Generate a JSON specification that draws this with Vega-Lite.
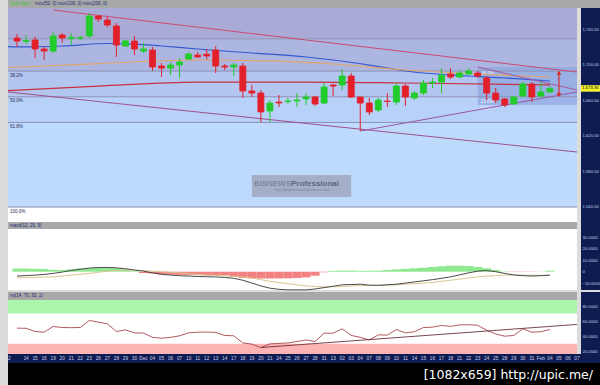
{
"$schema": "https://vega.github.io/schema/vega-lite/v6.json",
"background": "#dcdcdc",
"padding": {"left": 5, "top": 0, "right": 3, "bottom": 0},
"config": {"view": {"stroke": null}, "font": "Liberation Sans"},
"spacing": 0,
"datasets": {
"bars": [
{"d":"2012-11-13","o":1730.3,"h":1734.8,"l":1720.2,"c":1726.9,"m":-3.8,"s":-5.3,"hs":2.8,"r":50.7},
{"d":"2012-11-14","o":1726.5,"h":1733.7,"l":1723.5,"c":1727.5,"m":-3.4,"s":-5.2,"hs":2.8,"r":50.5},
{"d":"2012-11-15","o":1728.1,"h":1731.8,"l":1707.7,"c":1717.9,"m":-3.0,"s":-5.0,"hs":2.6,"r":46.2},
{"d":"2012-11-16","o":1717.9,"h":1720.2,"l":1705.5,"c":1715.6,"m":-2.4,"s":-4.8,"hs":2.4,"r":45.3},
{"d":"2012-11-19","o":1715.6,"h":1737.1,"l":1713.4,"c":1732.6,"m":-1.5,"s":-4.5,"hs":1.8,"r":52.9},
{"d":"2012-11-20","o":1733.7,"h":1735.9,"l":1724.7,"c":1730.3,"m":-0.3,"s":-3.8,"hs":1.6,"r":51.5},
{"d":"2012-11-21","o":1729.5,"h":1735.9,"l":1722.4,"c":1731.0,"m":1.0,"s":-3.0,"hs":2.2,"r":51.3},
{"d":"2012-11-22","o":1730.0,"h":1733.0,"l":1728.0,"c":1731.0,"m":2.2,"s":-2.2,"hs":2.8,"r":51.5},
{"d":"2012-11-23","o":1732.6,"h":1758.5,"l":1730.3,"c":1755.1,"m":3.2,"s":-1.5,"hs":3.2,"r":60.9},
{"d":"2012-11-26","o":1755.1,"h":1756.3,"l":1748.4,"c":1751.8,"m":3.7,"s":-0.5,"hs":3.5,"r":58.7},
{"d":"2012-11-27","o":1750.6,"h":1754.0,"l":1742.7,"c":1745.0,"m":3.8,"s":0.5,"hs":3.5,"r":56.4},
{"d":"2012-11-28","o":1743.9,"h":1747.2,"l":1708.9,"c":1722.4,"m":3.4,"s":1.1,"hs":3.2,"r":46.2},
{"d":"2012-11-29","o":1721.3,"h":1728.1,"l":1720.2,"c":1727.0,"m":2.6,"s":1.5,"hs":2.0,"r":48.4},
{"d":"2012-11-30","o":1726.9,"h":1732.6,"l":1711.1,"c":1717.9,"m":1.5,"s":1.3,"hs":0.5,"r":44.4},
{"d":"2012-12-03","o":1715.6,"h":1724.7,"l":1713.4,"c":1717.9,"m":0.5,"s":1.0,"hs":-1.2,"r":44.2},
{"d":"2012-12-04","o":1716.8,"h":1720.2,"l":1693.1,"c":1697.6,"m":-1.0,"s":0.5,"hs":-1.6,"r":38.5},
{"d":"2012-12-05","o":1698.7,"h":1702.1,"l":1686.3,"c":1696.4,"m":-2.3,"s":0.0,"hs":-2.4,"r":37.3},
{"d":"2012-12-06","o":1696.4,"h":1703.2,"l":1688.5,"c":1699.8,"m":-3.0,"s":-0.5,"hs":-2.6,"r":38.5},
{"d":"2012-12-07","o":1699.8,"h":1707.7,"l":1685.2,"c":1703.2,"m":-3.5,"s":-1.0,"hs":-2.8,"r":40.5},
{"d":"2012-12-10","o":1706.6,"h":1714.5,"l":1705.5,"c":1712.3,"m":-3.8,"s":-1.8,"hs":-3.0,"r":44.5},
{"d":"2012-12-11","o":1711.1,"h":1714.5,"l":1707.7,"c":1708.9,"m":-4.2,"s":-2.5,"hs":-3.0,"r":45.3},
{"d":"2012-12-12","o":1712.0,"h":1718.0,"l":1706.0,"c":1710.0,"m":-4.4,"s":-3.0,"hs":-3.2,"r":45.5},
{"d":"2012-12-13","o":1716.8,"h":1721.3,"l":1690.8,"c":1698.7,"m":-4.6,"s":-3.3,"hs":-3.0,"r":45.0},
{"d":"2012-12-14","o":1698.7,"h":1701.0,"l":1694.2,"c":1697.6,"m":-5.0,"s":-3.6,"hs":-3.2,"r":41.0},
{"d":"2012-12-17","o":1697.6,"h":1702.1,"l":1687.4,"c":1699.8,"m":-5.8,"s":-4.0,"hs":-4.5,"r":40.5},
{"d":"2012-12-18","o":1698.7,"h":1702.1,"l":1662.6,"c":1670.5,"m":-7.5,"s":-4.6,"hs":-5.5,"r":31.0},
{"d":"2012-12-19","o":1670.5,"h":1677.3,"l":1663.7,"c":1668.2,"m":-10.0,"s":-5.5,"hs":-5.9,"r":29.5},
{"d":"2012-12-20","o":1668.2,"h":1671.6,"l":1635.5,"c":1646.8,"m":-12.5,"s":-7.0,"hs":-6.0,"r":25.0},
{"d":"2012-12-21","o":1647.9,"h":1660.3,"l":1635.5,"c":1656.9,"m":-14.5,"s":-8.5,"hs":-6.0,"r":29.8},
{"d":"2012-12-24","o":1658.0,"h":1666.0,"l":1652.4,"c":1657.0,"m":-15.5,"s":-9.5,"hs":-5.9,"r":30.5},
{"d":"2012-12-25","o":1658.6,"h":1662.6,"l":1655.8,"c":1659.2,"m":-16.0,"s":-10.5,"hs":-5.8,"r":31.0},
{"d":"2012-12-26","o":1659.2,"h":1668.2,"l":1652.4,"c":1660.3,"m":-16.0,"s":-11.5,"hs":-5.5,"r":33.0},
{"d":"2012-12-27","o":1661.5,"h":1668.2,"l":1654.7,"c":1663.7,"m":-16.0,"s":-12.5,"hs":-5.0,"r":35.0},
{"d":"2012-12-28","o":1663.7,"h":1664.8,"l":1653.6,"c":1655.8,"m":-15.2,"s":-13.0,"hs":-3.5,"r":33.0},
{"d":"2012-12-31","o":1656.9,"h":1679.5,"l":1655.8,"c":1675.0,"m":-14.0,"s":-13.3,"hs":-0.5,"r":44.0},
{"d":"2013-01-01","o":1677.3,"h":1678.4,"l":1664.8,"c":1676.1,"m":-12.8,"s":-13.2,"hs":0.8,"r":44.0},
{"d":"2013-01-02","o":1677.3,"h":1695.3,"l":1671.6,"c":1687.4,"m":-11.5,"s":-13.0,"hs":1.0,"r":49.8},
{"d":"2013-01-03","o":1687.4,"h":1690.8,"l":1662.6,"c":1663.7,"m":-11.3,"s":-12.6,"hs":1.0,"r":41.0},
{"d":"2013-01-04","o":1663.7,"h":1663.7,"l":1625.3,"c":1656.9,"m":-11.0,"s":-12.3,"hs":0.8,"r":38.5},
{"d":"2013-01-07","o":1656.9,"h":1662.6,"l":1643.4,"c":1646.8,"m":-11.8,"s":-12.2,"hs":0.8,"r":35.0},
{"d":"2013-01-08","o":1649.0,"h":1662.6,"l":1646.8,"c":1660.3,"m":-12.0,"s":-12.0,"hs":1.0,"r":41.8},
{"d":"2013-01-09","o":1659.2,"h":1668.2,"l":1652.4,"c":1658.6,"m":-11.5,"s":-11.8,"hs":1.5,"r":41.5},
{"d":"2013-01-10","o":1658.0,"h":1679.5,"l":1654.7,"c":1676.1,"m":-11.0,"s":-11.6,"hs":2.0,"r":48.9},
{"d":"2013-01-11","o":1676.1,"h":1678.4,"l":1653.6,"c":1663.7,"m":-10.0,"s":-11.0,"hs":2.5,"r":44.4},
{"d":"2013-01-14","o":1662.6,"h":1670.5,"l":1660.3,"c":1668.2,"m":-9.0,"s":-10.5,"hs":3.0,"r":46.0},
{"d":"2013-01-15","o":1668.2,"h":1682.9,"l":1666.0,"c":1679.5,"m":-8.0,"s":-10.0,"hs":3.5,"r":51.5},
{"d":"2013-01-16","o":1679.5,"h":1685.2,"l":1673.9,"c":1680.6,"m":-7.0,"s":-9.5,"hs":4.2,"r":52.0},
{"d":"2013-01-17","o":1680.6,"h":1696.4,"l":1668.2,"c":1688.5,"m":-5.8,"s":-8.5,"hs":4.8,"r":54.2},
{"d":"2013-01-18","o":1689.7,"h":1696.4,"l":1684.0,"c":1686.3,"m":-4.5,"s":-7.5,"hs":5.3,"r":53.0},
{"d":"2013-01-21","o":1686.3,"h":1693.1,"l":1685.2,"c":1690.8,"m":-2.8,"s":-6.5,"hs":5.3,"r":55.0},
{"d":"2013-01-22","o":1689.7,"h":1696.4,"l":1688.5,"c":1693.1,"m":-1.0,"s":-5.5,"hs":5.0,"r":55.2},
{"d":"2013-01-23","o":1690.8,"h":1693.1,"l":1685.2,"c":1687.4,"m":0.5,"s":-4.6,"hs":4.2,"r":54.5},
{"d":"2013-01-24","o":1685.2,"h":1687.4,"l":1660.3,"c":1668.2,"m":1.0,"s":-3.8,"hs":3.0,"r":48.0},
{"d":"2013-01-25","o":1668.2,"h":1673.9,"l":1656.9,"c":1660.3,"m":0.0,"s":-3.4,"hs":1.5,"r":43.0},
{"d":"2013-01-28","o":1661.5,"h":1662.6,"l":1652.4,"c":1654.7,"m":-1.5,"s":-3.0,"hs":0.3,"r":40.0},
{"d":"2013-01-29","o":1655.8,"h":1664.8,"l":1654.7,"c":1663.7,"m":-2.8,"s":-3.0,"hs":-0.3,"r":41.0},
{"d":"2013-01-30","o":1664.8,"h":1680.6,"l":1663.7,"c":1678.4,"m":-3.5,"s":-3.0,"hs":-0.3,"r":49.8},
{"d":"2013-01-31","o":1678.4,"h":1680.6,"l":1658.0,"c":1663.7,"m":-3.8,"s":-3.1,"hs":-0.2,"r":45.3},
{"d":"2013-02-01","o":1664.8,"h":1680.6,"l":1663.7,"c":1669.4,"m":-3.5,"s":-3.2,"hs":0.1,"r":46.0},
{"d":"2013-02-04","o":1669.4,"h":1676.1,"l":1668.2,"c":1673.36,"m":-3.0,"s":-3.2,"hs":0.9,"r":48.9}
],
"ma": [
{"d":"2012-11-12","ma":"50","v":1720.5},{"d":"2012-11-13","ma":"50","v":1720.2},{"d":"2012-11-20","ma":"50","v":1721.3},{"d":"2012-11-27","ma":"50","v":1724.1},{"d":"2012-11-30","ma":"50","v":1723.5},{"d":"2012-12-05","ma":"50","v":1721.3},{"d":"2012-12-11","ma":"50","v":1717.9},{"d":"2012-12-19","ma":"50","v":1713.4},{"d":"2012-12-27","ma":"50","v":1708.9},{"d":"2013-01-01","ma":"50","v":1705.5},{"d":"2013-01-07","ma":"50","v":1699.8},{"d":"2013-01-11","ma":"50","v":1693.1},{"d":"2013-01-22","ma":"50","v":1687.4},{"d":"2013-01-28","ma":"50","v":1685.2},{"d":"2013-02-04","ma":"50","v":1681.8},
{"d":"2012-11-12","ma":"100","v":1697.0},{"d":"2012-11-26","ma":"100","v":1701.5},{"d":"2012-12-11","ma":"100","v":1705.5},{"d":"2012-12-21","ma":"100","v":1704.4},{"d":"2013-01-01","ma":"100","v":1701.0},{"d":"2013-01-11","ma":"100","v":1694.2},{"d":"2013-01-23","ma":"100","v":1689.7},{"d":"2013-02-04","ma":"100","v":1686.3},
{"d":"2012-11-12","ma":"200","v":1671.0},{"d":"2012-11-26","ma":"200","v":1676.1},{"d":"2012-12-11","ma":"200","v":1680.6},{"d":"2012-12-27","ma":"200","v":1680.6},{"d":"2013-01-11","ma":"200","v":1679.5},{"d":"2013-02-04","ma":"200","v":1677.3}
],
"trend": [
{"id":"t1","d":"2012-11-19","p":1761.9},{"id":"t1","d":"2013-02-07","p":1691.9},
{"id":"t2","d":"2012-11-12","p":1669.4},{"id":"t2","d":"2013-02-07","p":1601.6},
{"id":"t3","d":"2013-01-04","p":1625.3},{"id":"t3","d":"2013-02-07","p":1669.4},
{"id":"t4","d":"2013-01-23","p":1697.6},{"id":"t4","d":"2013-02-07","p":1671.6}
],
"zones": [
{"lo":1729.4,"hi":1800,"z":"a"},{"lo":1693,"hi":1729.4,"z":"b"},{"lo":1664,"hi":1693,"z":"c"},{"lo":1635,"hi":1664,"z":"d"},{"lo":1539.5,"hi":1635,"z":"e"},{"lo":1500,"hi":1539.5,"z":"f"}
],
"fib": [
{"p":1729.4,"lab":""},{"p":1693,"lab":"38.2%"},{"p":1664,"lab":"50.0%"},{"p":1635,"lab":"61.8%"},{"p":1539.5,"lab":"100.0%"}
],
"days": [
{"d":"2012-11-12","lab":"12"},{"d":"2012-11-14","lab":"14"},{"d":"2012-11-15","lab":"15"},{"d":"2012-11-16","lab":"16"},{"d":"2012-11-19","lab":"19"},{"d":"2012-11-20","lab":"20"},{"d":"2012-11-21","lab":"21"},{"d":"2012-11-22","lab":"22"},{"d":"2012-11-23","lab":"23"},{"d":"2012-11-26","lab":"26"},{"d":"2012-11-27","lab":"27"},{"d":"2012-11-28","lab":"28"},{"d":"2012-11-29","lab":"29"},{"d":"2012-11-30","lab":"30"},{"d":"2012-12-03","lab":"Dec"},{"d":"2012-12-04","lab":"04"},{"d":"2012-12-05","lab":"05"},{"d":"2012-12-06","lab":"06"},{"d":"2012-12-07","lab":"07"},{"d":"2012-12-10","lab":"10"},{"d":"2012-12-11","lab":"11"},{"d":"2012-12-12","lab":"12"},{"d":"2012-12-13","lab":"13"},{"d":"2012-12-14","lab":"14"},{"d":"2012-12-17","lab":"17"},{"d":"2012-12-18","lab":"18"},{"d":"2012-12-19","lab":"19"},{"d":"2012-12-20","lab":"20"},{"d":"2012-12-21","lab":"21"},{"d":"2012-12-24","lab":"24"},{"d":"2012-12-25","lab":"25"},{"d":"2012-12-26","lab":"26"},{"d":"2012-12-27","lab":"27"},{"d":"2012-12-28","lab":"28"},{"d":"2012-12-31","lab":"31"},{"d":"2013-01-01","lab":"13"},{"d":"2013-01-02","lab":"02"},{"d":"2013-01-03","lab":"03"},{"d":"2013-01-04","lab":"04"},{"d":"2013-01-07","lab":"07"},{"d":"2013-01-08","lab":"08"},{"d":"2013-01-09","lab":"09"},{"d":"2013-01-10","lab":"10"},{"d":"2013-01-11","lab":"11"},{"d":"2013-01-14","lab":"14"},{"d":"2013-01-15","lab":"15"},{"d":"2013-01-16","lab":"16"},{"d":"2013-01-17","lab":"17"},{"d":"2013-01-18","lab":"18"},{"d":"2013-01-21","lab":"21"},{"d":"2013-01-22","lab":"22"},{"d":"2013-01-23","lab":"23"},{"d":"2013-01-24","lab":"24"},{"d":"2013-01-25","lab":"25"},{"d":"2013-01-28","lab":"28"},{"d":"2013-01-29","lab":"29"},{"d":"2013-01-30","lab":"30"},{"d":"2013-01-31","lab":"31"},{"d":"2013-02-01","lab":"Feb"},{"d":"2013-02-04","lab":"04"},{"d":"2013-02-05","lab":"05"},{"d":"2013-02-06","lab":"06"},{"d":"2013-02-07","lab":"07"}
]
},
"vconcat": [
{
"width": 592, "height": 8,
"view": {"fill": "#a8a8a8"},
"layer": [
{"data": {"values": [{"d": "2012-11-12", "t": "Gold Spot"}]},
 "mark": {"type": "text", "align": "left", "baseline": "middle", "fontSize": 4.5, "dx": 2, "color": "#39c839"},
 "encoding": {"x": {"field": "d", "type": "ordinal", "scale": {"type": "point", "padding": 0, "range": [0, 569], "domain": ["2012-11-12","2012-11-13","2012-11-14","2012-11-15","2012-11-16","2012-11-19","2012-11-20","2012-11-21","2012-11-22","2012-11-23","2012-11-26","2012-11-27","2012-11-28","2012-11-29","2012-11-30","2012-12-03","2012-12-04","2012-12-05","2012-12-06","2012-12-07","2012-12-10","2012-12-11","2012-12-12","2012-12-13","2012-12-14","2012-12-17","2012-12-18","2012-12-19","2012-12-20","2012-12-21","2012-12-24","2012-12-25","2012-12-26","2012-12-27","2012-12-28","2012-12-31","2013-01-01","2013-01-02","2013-01-03","2013-01-04","2013-01-07","2013-01-08","2013-01-09","2013-01-10","2013-01-11","2013-01-14","2013-01-15","2013-01-16","2013-01-17","2013-01-18","2013-01-21","2013-01-22","2013-01-23","2013-01-24","2013-01-25","2013-01-28","2013-01-29","2013-01-30","2013-01-31","2013-02-01","2013-02-04","2013-02-05","2013-02-06","2013-02-07"]}, "axis": null}, "text": {"field": "t"}}},
{"data": {"values": [{"d": "2012-11-14", "t": "mov(50, 0)  mov(100, 0)  mov(200, 0)"}]},
 "mark": {"type": "text", "align": "left", "baseline": "middle", "fontSize": 4.5, "dx": 9, "color": "#1a2a7a"},
 "encoding": {"x": {"field": "d", "type": "ordinal"}, "text": {"field": "t"}}}
]
},
{
"hconcat": [
{
"width": 569, "height": 214,
"view": {"fill": "#ffffff"},
"resolve": {"scale": {"color": "independent"}},
"layer": [
{"data": {"name": "zones"}, "mark": {"type": "rect", "clip": true},
 "encoding": {"y": {"field": "lo", "type": "quantitative", "scale": {"domain": [1522.6, 1764.2], "nice": false, "zero": false}, "axis": null}, "y2": {"field": "hi"},
  "color": {"field": "z", "type": "nominal", "scale": {"domain": ["a","b","c","d","e","f"], "range": ["#a9abd6","#adb6e1","#b2c6ef","#b7d1f8","#bedbfd","#ffffff"]}, "legend": null}}},
{"data": {"values": [{"d1": "2013-01-23", "d2": "2013-02-07", "p1": 1697.6, "p2": 1654.7}]}, "mark": {"type": "rect", "color": "#8fa6df", "opacity": 0.7},
 "encoding": {"x": {"field": "d1", "type": "ordinal", "scale": {"type": "point", "padding": 0, "domain": ["2012-11-12","2012-11-13","2012-11-14","2012-11-15","2012-11-16","2012-11-19","2012-11-20","2012-11-21","2012-11-22","2012-11-23","2012-11-26","2012-11-27","2012-11-28","2012-11-29","2012-11-30","2012-12-03","2012-12-04","2012-12-05","2012-12-06","2012-12-07","2012-12-10","2012-12-11","2012-12-12","2012-12-13","2012-12-14","2012-12-17","2012-12-18","2012-12-19","2012-12-20","2012-12-21","2012-12-24","2012-12-25","2012-12-26","2012-12-27","2012-12-28","2012-12-31","2013-01-01","2013-01-02","2013-01-03","2013-01-04","2013-01-07","2013-01-08","2013-01-09","2013-01-10","2013-01-11","2013-01-14","2013-01-15","2013-01-16","2013-01-17","2013-01-18","2013-01-21","2013-01-22","2013-01-23","2013-01-24","2013-01-25","2013-01-28","2013-01-29","2013-01-30","2013-01-31","2013-02-01","2013-02-04","2013-02-05","2013-02-06","2013-02-07"]}, "axis": null}, "x2": {"field": "d2"},
  "y": {"field": "p1", "type": "quantitative"}, "y2": {"field": "p2"}}},
{"data": {"name": "fib"}, "mark": {"type": "rule", "color": "#8c90b4", "strokeWidth": 1},
 "encoding": {"y": {"field": "p", "type": "quantitative"}}},
{"data": {"name": "fib"}, "mark": {"type": "text", "align": "left", "baseline": "top", "dx": 2, "dy": 1.5, "fontSize": 4.5, "color": "#2a2a55"},
 "encoding": {"x": {"datum": "2012-11-12", "type": "ordinal"}, "y": {"field": "p", "type": "quantitative"}, "text": {"field": "lab"}}},
{"data": {"values": [{"d1": "2012-12-19", "d2": "2013-01-03", "p1": 1575.7, "p2": 1550.8}]}, "mark": {"type": "rect", "color": "#a4aec6"},
 "encoding": {"x": {"field": "d1", "type": "ordinal"}, "x2": {"field": "d2"}, "y": {"field": "p1", "type": "quantitative"}, "y2": {"field": "p2"}}},
{"data": {"values": [{"d": "2012-12-25", "p": 1565.5, "t": "BISNEWS"}]}, "mark": {"type": "text", "align": "right", "baseline": "middle", "fontSize": 8, "dx": 3, "color": "#6b7794"},
 "encoding": {"x": {"field": "d", "type": "ordinal"}, "y": {"field": "p", "type": "quantitative"}, "text": {"field": "t"}}},
{"data": {"values": [{"d": "2012-12-25", "p": 1565.5, "t": "Professional"}]}, "mark": {"type": "text", "align": "left", "baseline": "middle", "fontSize": 8, "fontWeight": "bold", "dx": 3, "color": "#5c6885"},
 "encoding": {"x": {"field": "d", "type": "ordinal"}, "y": {"field": "p", "type": "quantitative"}, "text": {"field": "t"}}},
{"data": {"values": [{"d": "2012-12-27", "p": 1558.6, "t": "http://professional.bisnews.com"}]}, "mark": {"type": "text", "align": "center", "baseline": "middle", "fontSize": 4, "dx": -4, "color": "#7a86a2"},
 "encoding": {"x": {"field": "d", "type": "ordinal"}, "y": {"field": "p", "type": "quantitative"}, "text": {"field": "t"}}},
{"data": {"values": [{"d": "2013-01-23", "p": 1693.5, "t": "38.2%"}, {"d": "2013-01-23", "p": 1661.5, "t": "23.6%"}, {"d": "2013-01-23", "p": 1653.5, "t": "0.0%"}]}, "mark": {"type": "text", "align": "left", "baseline": "top", "fontSize": 4.5, "dx": 3, "color": "#e8eeff"},
 "encoding": {"x": {"field": "d", "type": "ordinal"}, "y": {"field": "p", "type": "quantitative"}, "text": {"field": "t"}}},
{"data": {"name": "ma"}, "mark": {"type": "line", "strokeWidth": 1.2, "interpolate": "monotone"},
 "encoding": {"x": {"field": "d", "type": "ordinal"}, "y": {"field": "v", "type": "quantitative"},
  "color": {"field": "ma", "type": "nominal", "scale": {"domain": ["50","100","200"], "range": ["#3557d2","#e2a66a","#c8303e"]}, "legend": null}}},
{"data": {"name": "trend"}, "mark": {"type": "line", "strokeWidth": 1, "clip": true},
 "encoding": {"x": {"field": "d", "type": "ordinal"}, "y": {"field": "p", "type": "quantitative"}, "detail": {"field": "id"},
  "color": {"field": "id", "type": "nominal", "scale": {"domain": ["t1","t2","t3","t4"], "range": ["#cc4a72","#a0508c","#9a56a6","#a85a9a"]}, "legend": null}}},
{"data": {"name": "bars"}, "mark": {"type": "rule", "strokeWidth": 1},
 "encoding": {"x": {"field": "d", "type": "ordinal"}, "y": {"field": "l", "type": "quantitative"}, "y2": {"field": "h"},
  "color": {"condition": {"test": "datum.c >= datum.o", "value": "#22cc2a"}, "value": "#e3202a"}}},
{"data": {"name": "bars"}, "mark": {"type": "bar", "size": 6, "strokeWidth": 0.8},
 "encoding": {"x": {"field": "d", "type": "ordinal"}, "y": {"field": "o", "type": "quantitative"}, "y2": {"field": "c"},
  "color": {"condition": {"test": "datum.c >= datum.o", "value": "#22cc2a"}, "value": "#e3202a"},
  "stroke": {"condition": {"test": "datum.c >= datum.o", "value": "#22cc2a"}, "value": "#e3202a"}}},
{"data": {"values": [{"d": "2013-02-05", "top": 1691, "bot": 1666}]}, "mark": {"type": "rule", "color": "#e02828", "strokeWidth": 1.2},
 "encoding": {"x": {"field": "d", "type": "ordinal"}, "y": {"field": "top", "type": "quantitative"}, "y2": {"field": "bot"}}},
{"data": {"values": [{"d": "2013-02-05", "top": 1691, "bot": 1666}]}, "mark": {"type": "point", "shape": "triangle-up", "filled": true, "color": "#e02828", "size": 22, "opacity": 1},
 "encoding": {"x": {"field": "d", "type": "ordinal"}, "y": {"field": "top", "type": "quantitative"}}},
{"data": {"values": [{"d": "2013-02-05", "top": 1691, "bot": 1666}]}, "mark": {"type": "point", "shape": "triangle-down", "filled": true, "color": "#e02828", "size": 22, "opacity": 1},
 "encoding": {"x": {"field": "d", "type": "ordinal"}, "y": {"field": "bot", "type": "quantitative"}}}
]
},
{
"width": 19, "height": 214,
"view": {"fill": "#0e1c52"},
"data": {"values": [{"c": 1673.36}]},
"layer": [
{"mark": {"type": "rule", "color": "#f4f430", "strokeWidth": 6.5},
 "encoding": {"y": {"field": "c", "type": "quantitative", "scale": {"domain": [1522.6, 1764.2], "nice": false, "zero": false},
  "axis": {"orient": "left", "values": [1540,1560,1580,1600,1620,1640,1660,1680,1700,1720,1740,1760], "format": ",.2f", "domain": false, "ticks": false, "tickSize": 0, "grid": false, "labelAlign": "left", "labelPadding": -1, "labelColor": "#c4cbe6", "labelFontSize": 4.2, "labelOverlap": false, "labelFlush": false, "title": null}}}},
{"mark": {"type": "text", "fontSize": 4.2, "color": "#000000", "baseline": "middle"},
 "encoding": {"y": {"field": "c", "type": "quantitative"}, "text": {"field": "c", "format": ",.2f"}}}
]
}
],
"spacing": 4, "bounds": "flush"
},
{
"hconcat": [
{"width": 569, "height": 7, "view": {"fill": "#a8a8a8"},
 "data": {"values": [{"d": "2012-11-12", "t": "macd(12, 26, 9)"}]},
 "mark": {"type": "text", "align": "left", "baseline": "middle", "fontSize": 4.5, "dx": 2, "color": "#1a2a7a"},
 "encoding": {"x": {"field": "d", "type": "ordinal", "scale": {"type": "point", "padding": 0, "domain": ["2012-11-12","2013-02-07"]}, "axis": null}, "text": {"field": "t"}}},
{"width": 19, "height": 7, "view": {"fill": "#0e1c52"},
 "data": {"values": [{"v": 0}]}, "mark": {"type": "point", "opacity": 0, "size": 1}, "encoding": {}}
],
"spacing": 4, "bounds": "flush"
},
{
"hconcat": [
{
"width": 569, "height": 61,
"view": {"fill": "#ffffff"},
"data": {"name": "bars"},
"layer": [
{"mark": {"type": "bar", "size": 9.1},
 "encoding": {"x": {"field": "d", "type": "ordinal", "scale": {"type": "point", "padding": 0, "domain": ["2012-11-12","2012-11-13","2012-11-14","2012-11-15","2012-11-16","2012-11-19","2012-11-20","2012-11-21","2012-11-22","2012-11-23","2012-11-26","2012-11-27","2012-11-28","2012-11-29","2012-11-30","2012-12-03","2012-12-04","2012-12-05","2012-12-06","2012-12-07","2012-12-10","2012-12-11","2012-12-12","2012-12-13","2012-12-14","2012-12-17","2012-12-18","2012-12-19","2012-12-20","2012-12-21","2012-12-24","2012-12-25","2012-12-26","2012-12-27","2012-12-28","2012-12-31","2013-01-01","2013-01-02","2013-01-03","2013-01-04","2013-01-07","2013-01-08","2013-01-09","2013-01-10","2013-01-11","2013-01-14","2013-01-15","2013-01-16","2013-01-17","2013-01-18","2013-01-21","2013-01-22","2013-01-23","2013-01-24","2013-01-25","2013-01-28","2013-01-29","2013-01-30","2013-01-31","2013-02-01","2013-02-04","2013-02-05","2013-02-06","2013-02-07"]}, "axis": null},
  "y": {"field": "hs", "type": "quantitative", "scale": {"domain": [-16.1, 37.6], "nice": false, "zero": false}, "axis": null}, "y2": {"datum": 0},
  "color": {"condition": {"test": "datum.hs >= 0", "value": "#8fe88f"}, "value": "#f28282"}}},
{"mark": {"type": "line", "color": "#d9c694", "strokeWidth": 1},
 "encoding": {"x": {"field": "d", "type": "ordinal"}, "y": {"field": "s", "type": "quantitative"}}},
{"mark": {"type": "line", "color": "#4a4a4a", "strokeWidth": 1},
 "encoding": {"x": {"field": "d", "type": "ordinal"}, "y": {"field": "m", "type": "quantitative"}}}
]
},
{
"width": 19, "height": 61,
"view": {"fill": "#0e1c52"},
"data": {"values": [{"v": 10}]},
"mark": {"type": "point", "opacity": 0, "size": 1},
"encoding": {"y": {"field": "v", "type": "quantitative", "scale": {"domain": [-16.1, 37.6], "nice": false, "zero": false},
 "axis": {"orient": "left", "values": [-10, 0, 10, 20, 30], "labelExpr": "datum.value == 0 ? '0' : format(datum.value, '.4f')", "domain": false, "ticks": false, "tickSize": 0, "grid": false, "labelAlign": "left", "labelPadding": -1, "labelColor": "#c4cbe6", "labelFontSize": 4.2, "labelOverlap": false, "labelFlush": false, "title": null}}}
}
],
"spacing": 4, "bounds": "flush"
},
{
"hconcat": [
{"width": 569, "height": 8, "view": {"fill": "#a8a8a8"},
 "data": {"values": [{"d": "2012-11-12", "t": "rsi(14, 70, 30, 1)"}]},
 "mark": {"type": "text", "align": "left", "baseline": "middle", "fontSize": 4.5, "dx": 2, "color": "#1a2a7a"},
 "encoding": {"x": {"field": "d", "type": "ordinal", "scale": {"type": "point", "padding": 0, "domain": ["2012-11-12","2013-02-07"]}, "axis": null}, "text": {"field": "t"}}},
{"width": 19, "height": 8, "view": {"fill": "#0e1c52"},
 "data": {"values": [{"v": 0}]}, "mark": {"type": "point", "opacity": 0, "size": 1}, "encoding": {}}
],
"spacing": 4, "bounds": "flush"
},
{
"hconcat": [
{
"width": 569, "height": 54,
"view": {"fill": "#ffffff"},
"layer": [
{"data": {"values": [{"lo": 70, "hi": 100, "z": "ob"}, {"lo": 0, "hi": 30, "z": "os"}]}, "mark": {"type": "rect", "clip": true},
 "encoding": {"y": {"field": "lo", "type": "quantitative", "scale": {"domain": [16.4, 88], "nice": false, "zero": false}, "axis": null}, "y2": {"field": "hi"},
  "color": {"field": "z", "type": "nominal", "scale": {"domain": ["ob", "os"], "range": ["#acf5ac", "#ffb4b4"]}, "legend": null}}},
{"data": {"name": "bars"}, "mark": {"type": "line", "color": "#a8444e", "strokeWidth": 0.9},
 "encoding": {"x": {"field": "d", "type": "ordinal", "scale": {"type": "point", "padding": 0, "domain": ["2012-11-12","2012-11-13","2012-11-14","2012-11-15","2012-11-16","2012-11-19","2012-11-20","2012-11-21","2012-11-22","2012-11-23","2012-11-26","2012-11-27","2012-11-28","2012-11-29","2012-11-30","2012-12-03","2012-12-04","2012-12-05","2012-12-06","2012-12-07","2012-12-10","2012-12-11","2012-12-12","2012-12-13","2012-12-14","2012-12-17","2012-12-18","2012-12-19","2012-12-20","2012-12-21","2012-12-24","2012-12-25","2012-12-26","2012-12-27","2012-12-28","2012-12-31","2013-01-01","2013-01-02","2013-01-03","2013-01-04","2013-01-07","2013-01-08","2013-01-09","2013-01-10","2013-01-11","2013-01-14","2013-01-15","2013-01-16","2013-01-17","2013-01-18","2013-01-21","2013-01-22","2013-01-23","2013-01-24","2013-01-25","2013-01-28","2013-01-29","2013-01-30","2013-01-31","2013-02-01","2013-02-04","2013-02-05","2013-02-06","2013-02-07"]}, "axis": null},
  "y": {"field": "r", "type": "quantitative"}}},
{"data": {"values": [{"d": "2012-12-20", "v": 25.0}, {"d": "2013-02-07", "v": 55.6}]}, "mark": {"type": "line", "color": "#6a3038", "strokeWidth": 0.9},
 "encoding": {"x": {"field": "d", "type": "ordinal"}, "y": {"field": "v", "type": "quantitative"}}}
],
"resolve": {"scale": {"color": "independent"}}
},
{
"width": 19, "height": 54,
"view": {"fill": "#0e1c52"},
"data": {"values": [{"v": 50}]},
"mark": {"type": "point", "opacity": 0, "size": 1},
"encoding": {"y": {"field": "v", "type": "quantitative", "scale": {"domain": [16.4, 88], "nice": false, "zero": false},
 "axis": {"orient": "left", "values": [20, 40, 60, 80], "format": ".4f", "domain": false, "ticks": false, "tickSize": 0, "grid": false, "labelAlign": "left", "labelPadding": -1, "labelColor": "#c4cbe6", "labelFontSize": 4.2, "labelOverlap": false, "labelFlush": false, "title": null}}}
}
],
"spacing": 4, "bounds": "flush"
},
{
"width": 592, "height": 9,
"view": {"fill": "#0e1c52"},
"data": {"name": "days"},
"mark": {"type": "text", "fontSize": 4.8, "color": "#c8d0ee", "baseline": "middle"},
"encoding": {"x": {"field": "d", "type": "ordinal", "scale": {"type": "point", "padding": 0, "range": [0, 569], "domain": ["2012-11-12","2012-11-13","2012-11-14","2012-11-15","2012-11-16","2012-11-19","2012-11-20","2012-11-21","2012-11-22","2012-11-23","2012-11-26","2012-11-27","2012-11-28","2012-11-29","2012-11-30","2012-12-03","2012-12-04","2012-12-05","2012-12-06","2012-12-07","2012-12-10","2012-12-11","2012-12-12","2012-12-13","2012-12-14","2012-12-17","2012-12-18","2012-12-19","2012-12-20","2012-12-21","2012-12-24","2012-12-25","2012-12-26","2012-12-27","2012-12-28","2012-12-31","2013-01-01","2013-01-02","2013-01-03","2013-01-04","2013-01-07","2013-01-08","2013-01-09","2013-01-10","2013-01-11","2013-01-14","2013-01-15","2013-01-16","2013-01-17","2013-01-18","2013-01-21","2013-01-22","2013-01-23","2013-01-24","2013-01-25","2013-01-28","2013-01-29","2013-01-30","2013-01-31","2013-02-01","2013-02-04","2013-02-05","2013-02-06","2013-02-07"]}, "axis": null},
 "text": {"field": "lab"}}
},
{
"width": 595, "height": 24,
"view": {"fill": "#000000"},
"data": {"values": [{"d": "2013-02-07", "t": "[1082x659] http://upic.me/"}]},
"mark": {"type": "text", "align": "right", "baseline": "middle", "fontSize": 12.5, "dx": 16, "color": "#ffffff", "font": "DejaVu Sans"},
"encoding": {"x": {"field": "d", "type": "ordinal", "scale": {"type": "point", "padding": 0, "range": [0, 569], "domain": ["2012-11-12","2013-02-07"]}, "axis": null}, "text": {"field": "t"}}
}
]
}
